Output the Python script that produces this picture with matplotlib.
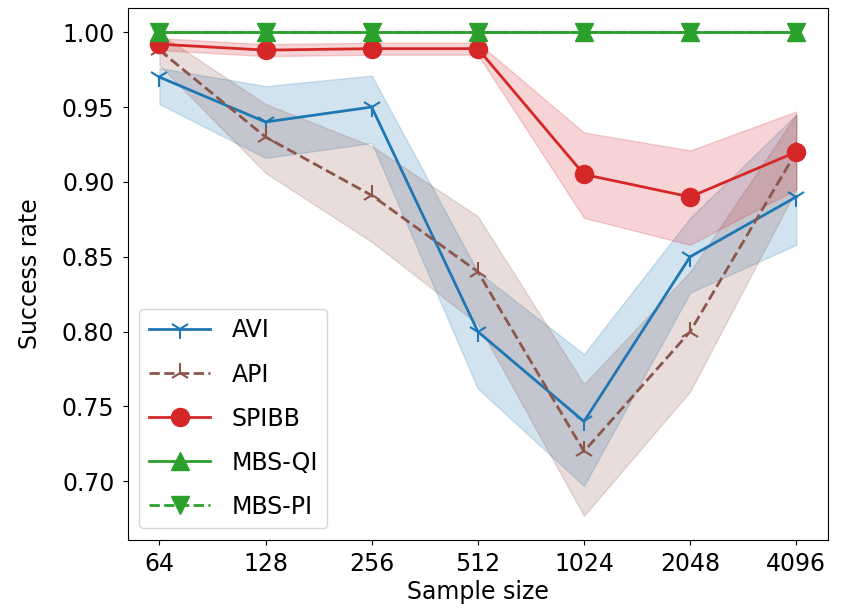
import numpy as np
import matplotlib
matplotlib.use("Agg")
import matplotlib.pyplot as plt

sizes = [64, 128, 256, 512, 1024, 2048, 4096]

avi = [0.970, 0.940, 0.950, 0.800, 0.740, 0.850, 0.890]
avi_lo = [0.952, 0.916, 0.926, 0.762, 0.697, 0.826, 0.858]
avi_hi = [0.976, 0.964, 0.971, 0.840, 0.785, 0.876, 0.945]

api = [0.988, 0.930, 0.891, 0.840, 0.720, 0.800, 0.920]
api_lo = [0.978, 0.906, 0.860, 0.805, 0.677, 0.760, 0.895]
api_hi = [0.999, 0.952, 0.924, 0.877, 0.765, 0.840, 0.945]

spibb = [0.992, 0.988, 0.989, 0.989, 0.905, 0.890, 0.920]
spibb_lo = [0.988, 0.984, 0.985, 0.985, 0.876, 0.858, 0.895]
spibb_hi = [0.996, 0.992, 0.993, 0.993, 0.933, 0.921, 0.947]

mbs_qi = [1.0, 1.0, 1.0, 1.0, 1.0, 1.0, 1.0]
mbs_pi = [1.0, 1.0, 1.0, 1.0, 1.0, 1.0, 1.0]

plt.rcParams['font.size'] = 17

fig = plt.figure(figsize=(8.45, 6.15), dpi=100)
ax = fig.add_axes([0.151, 0.122, 0.829, 0.865])

x = np.arange(len(sizes))

ax.plot(x, avi, '-', marker='1', color='tab:blue', lw=2, ms=14, mew=1.5, label='AVI')
ax.fill_between(x, avi_lo, avi_hi, color='tab:blue', alpha=0.2)
ax.plot(x, api, '--', marker='2', color='tab:brown', lw=2, ms=14, mew=1.5, label='API')
ax.fill_between(x, api_lo, api_hi, color='tab:brown', alpha=0.2)
ax.plot(x, spibb, '-', marker='o', color='tab:red', lw=2, ms=13, label='SPIBB')
ax.fill_between(x, spibb_lo, spibb_hi, color='tab:red', alpha=0.2)
ax.plot(x, mbs_qi, '-', marker='^', color='tab:green', lw=2, ms=13, label='MBS-QI')
ax.plot(x, mbs_pi, '--', marker='v', color='tab:green', lw=2, ms=13, label='MBS-PI')

ax.set_xticks(x)
ax.set_xticklabels([str(s) for s in sizes])
ax.set_xlabel('Sample size', labelpad=3)
ax.set_ylabel('Success rate', labelpad=14)
ax.set_yticks([0.70, 0.75, 0.80, 0.85, 0.90, 0.95, 1.00])
ax.tick_params(axis='y', pad=6)
ax.tick_params(axis='x', pad=5)
ax.legend(loc='lower left', fontsize=17, labelspacing=0.85, handlelength=2.6,
          handletextpad=0.9)

fig.savefig('out.png', dpi=100)
